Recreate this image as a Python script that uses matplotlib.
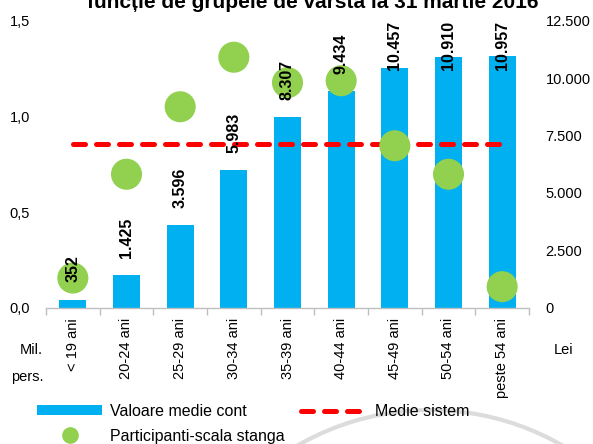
import numpy as np
import matplotlib
matplotlib.use("Agg")
import matplotlib.pyplot as plt
from matplotlib.patches import Patch, Arc
from matplotlib.lines import Line2D
from matplotlib.ticker import FuncFormatter

plt.rcParams['font.family'] = ['Liberation Sans', 'DejaVu Sans']

categorii = ['< 19 ani', '20-24 ani', '25-29 ani', '30-34 ani', '35-39 ani',
             '40-44 ani', '45-49 ani', '50-54 ani', 'peste 54 ani']
valoare_medie_cont = [352, 1425, 3596, 5983, 8307, 9434, 10457, 10910, 10957]
participanti = [0.155, 0.698, 1.051, 1.310, 1.177, 1.187, 0.847, 0.698, 0.110]
medie_sistem = 7120
titlu = 'funcție de grupele de vârstă la 31 martie 2016'

BLUE = '#00B0F0'
GREEN = '#92D050'
RED = '#FF0000'

W, H = 593, 444
fig = plt.figure(figsize=(W / 100, H / 100), dpi=100)
x0, x1, ytop, ybot = 46, 529, 20.9, 307.7
ax = fig.add_axes([x0 / W, 1 - ybot / H, (x1 - x0) / W, (ybot - ytop) / H])
ax2 = ax.twinx()
ax.set_zorder(ax2.get_zorder() + 1)
ax.patch.set_visible(False)

x = np.arange(len(categorii))
ax2.bar(x, valoare_medie_cont, width=0.5, color=BLUE, zorder=1)
ax2.plot(x[[0, -1]], [medie_sistem, medie_sistem], color=RED, lw=3.6,
         linestyle=(0, (2.4, 2.2)), dash_capstyle='round', zorder=2)
ax.scatter(x, participanti, s=500, color=GREEN, edgecolors='none', zorder=3)

ax.set_xlim(-0.5, len(categorii) - 0.5)
ax.set_ylim(0, 1.5)
ax2.set_ylim(0, 12500)
ax.set_yticks([0, 0.5, 1.0, 1.5])
ax.yaxis.set_major_formatter(FuncFormatter(lambda v, p: f'{v:.1f}'.replace('.', ',')))
ax2.set_yticks(np.arange(0, 12501, 2500))
ax2.yaxis.set_major_formatter(FuncFormatter(lambda v, p: f'{int(v):,}'.replace(',', '.')))

ax.set_xticks(x)
ax.set_xticklabels(categorii, rotation=90, fontsize=10.5)
ax.set_xticks(np.arange(-0.5, len(categorii), 1), minor=True)
ax.tick_params(axis='x', which='major', length=0, pad=7.5)
ax.tick_params(axis='x', which='minor', length=5, color='#BFBFBF', width=1)
ax.tick_params(axis='y', length=0, pad=11.5, labelsize=10.5)
ax2.tick_params(axis='y', length=0, pad=12, labelsize=10.5)
ax2.tick_params(axis='x', length=0)

for a in (ax, ax2):
    for s in ('left', 'right', 'top'):
        a.spines[s].set_visible(False)
ax2.spines['bottom'].set_visible(False)
ax.spines['bottom'].set_color('#BFBFBF')
ax.spines['bottom'].set_linewidth(1)

anns = []
for i, v in enumerate(valoare_medie_cont):
    t = ax.annotate(f'{v:,}'.replace(',', '.'), xy=(i, v), xycoords=ax2.transData,
                    xytext=(0, 12.5), textcoords='offset points', rotation=90,
                    ha='center', va='bottom', fontweight='bold', fontsize=11.5,
                    family=['Liberation Sans Narrow', 'Liberation Sans'], zorder=5,
                    annotation_clip=False)
    anns.append(t)

fig.canvas.draw()
renderer = fig.canvas.get_renderer()
top_px = ax.get_window_extent(renderer).y1
for t in anns:
    bb = t.get_window_extent(renderer)
    if bb.y1 > top_px:
        excess = (bb.y1 - top_px) * 72 / fig.dpi
        t.xyann = (0, 12.5 - excess)

fig.text(313 / W, 1 - 8.5 / H, titlu, ha='center', va='baseline',
         fontsize=15, fontweight='bold')
fig.text(31 / W, 1 - 350 / H, 'Mil.', ha='center', va='center', fontsize=10.5)
fig.text(27 / W, 1 - 377 / H, 'pers.', ha='center', va='center', fontsize=10.5)
fig.text(564 / W, 1 - 350 / H, 'Lei', ha='center', va='center', fontsize=10.5)

handles = [Patch(facecolor=BLUE, edgecolor='none'),
           Line2D([], [], marker='o', color=GREEN, linestyle='none', markersize=11),
           Line2D([], [], color=RED, lw=3.6, linestyle=(0, (2.4, 2.2)),
                  dash_capstyle='round')]
labels = ['Valoare medie cont', 'Participanti-scala stanga', 'Medie sistem']
fig.legend(handles, labels, ncol=2, loc='upper left',
           bbox_to_anchor=(37 / W, 1 - 404 / H), frameon=False, fontsize=11.5,
           handlelength=4.1, handleheight=0.6, handletextpad=0.5,
           columnspacing=1.0, labelspacing=0.6, borderpad=0, borderaxespad=0)

arc = Arc((430 / W, 1 - 675 / H), 2 * 265 / W, 2 * 265 / H, theta1=0, theta2=180,
          transform=fig.transFigure, color='#DCDCDC', lw=3, zorder=-10)
fig.add_artist(arc)

fig.savefig('out.png', dpi=100)
